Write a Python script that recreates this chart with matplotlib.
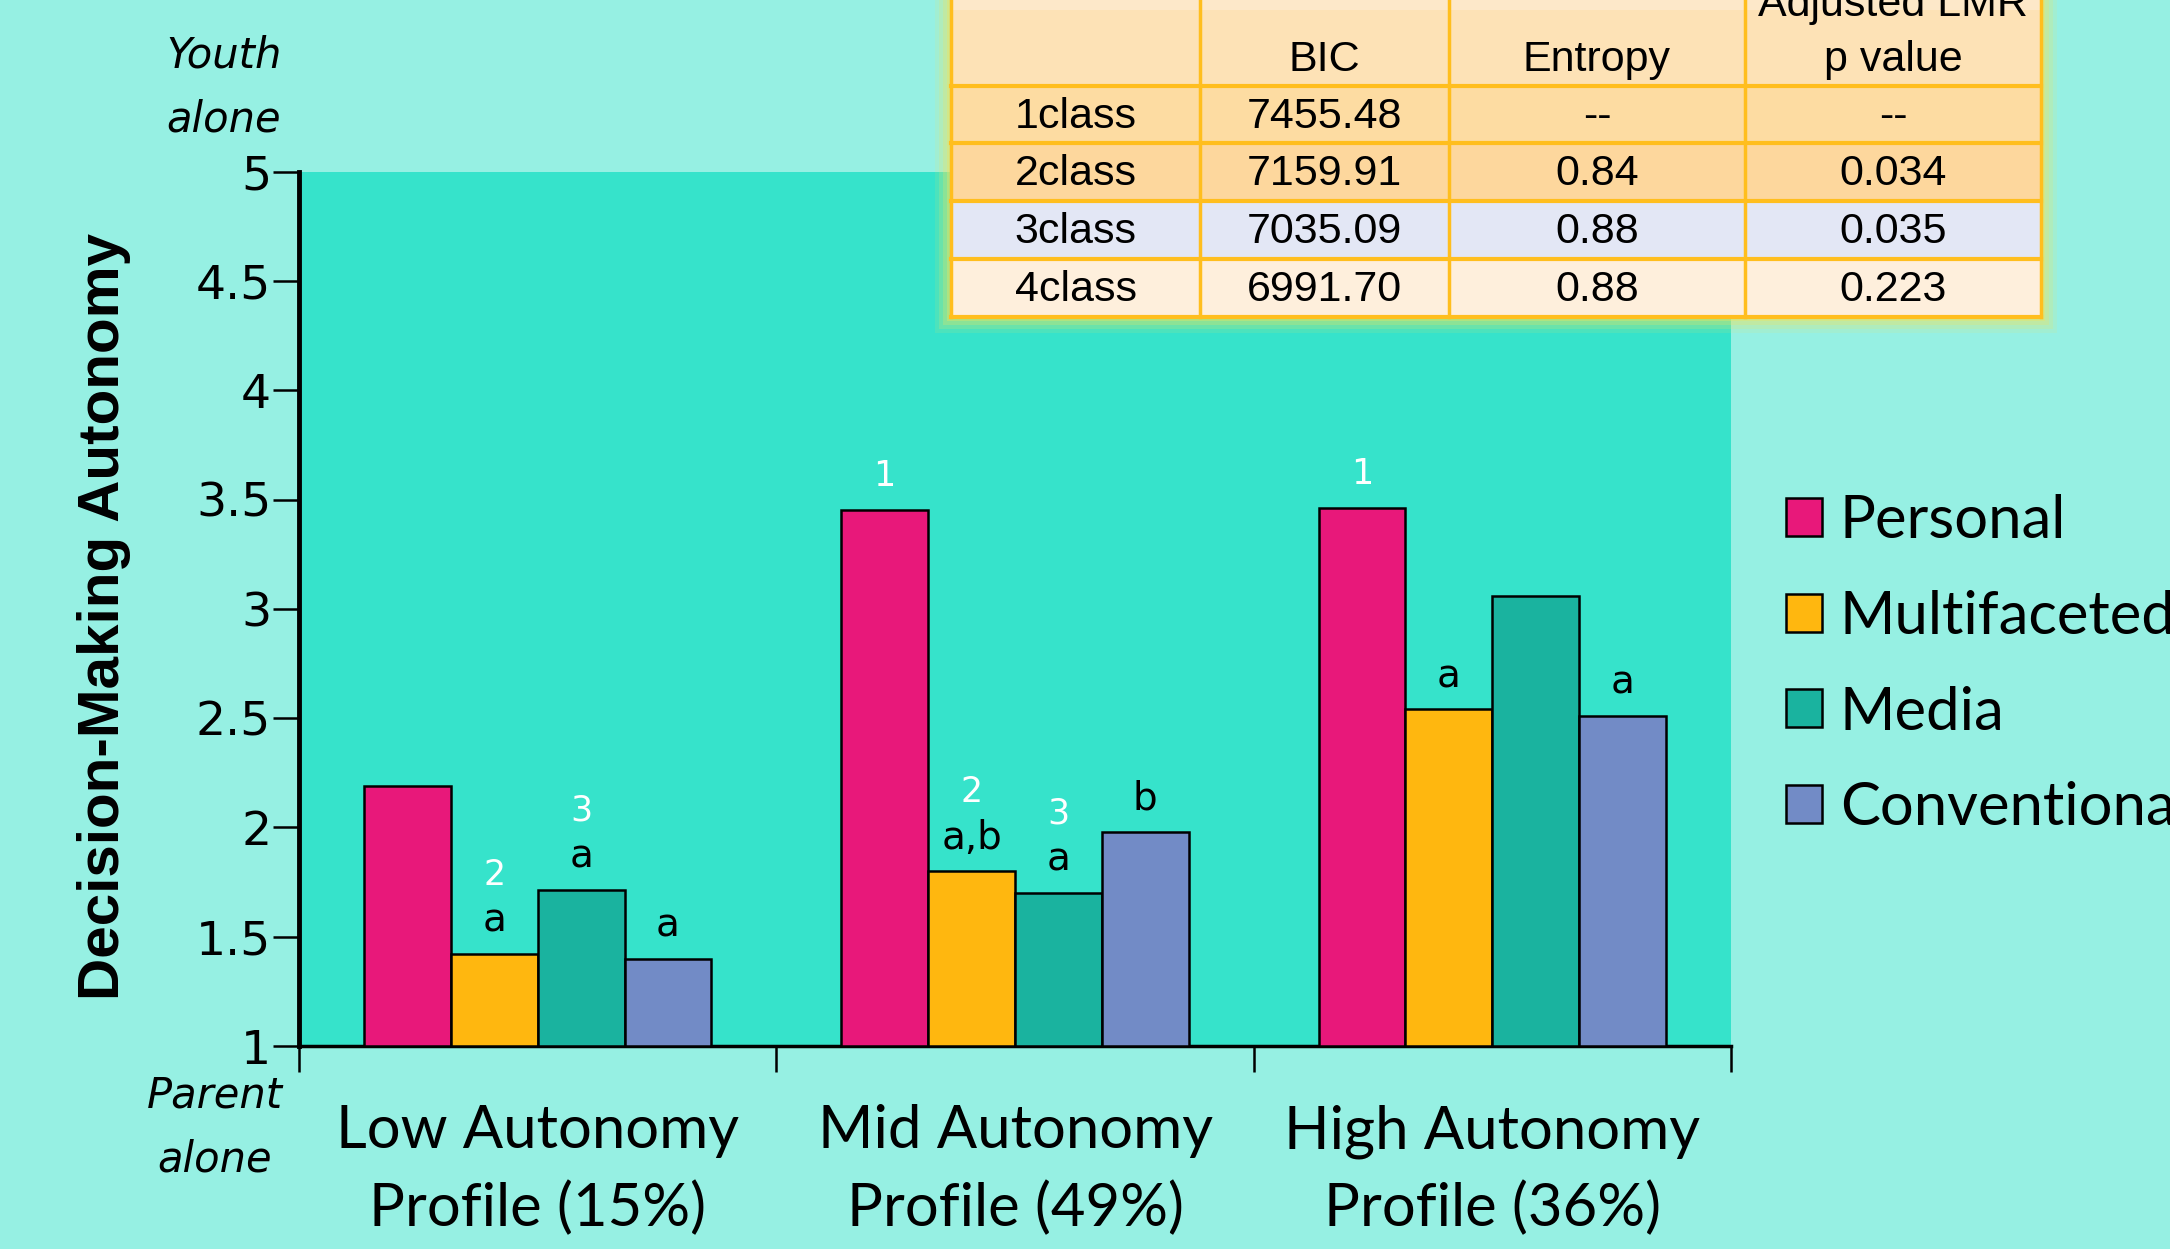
import matplotlib
matplotlib.use("Agg")
import matplotlib.pyplot as plt
from matplotlib.patches import Rectangle, Patch
import numpy as np

# ---- data -------------------------------------------------------------
profiles = ["Low Autonomy\nProfile (15%)", "Mid Autonomy\nProfile (49%)", "High Autonomy\nProfile (36%)"]
domains = ["Personal", "Multifaceted", "Media", "Conventional"]
personal = [2.19, 3.45, 3.46]
multifaceted = [1.42, 1.80, 2.54]
media = [1.715, 1.70, 3.06]
conventional = [1.40, 1.98, 2.51]

# significance letters (black) and within-profile contrasts (white)
letters_personal = ["", "", ""]
letters_multifaceted = ["a", "a,b", "a"]
letters_media = ["a", "a", ""]
letters_conventional = ["a", "b", "a"]
numbers_personal = ["", "1", "1"]
numbers_multifaceted = ["2", "2", ""]
numbers_media = ["3", "3", ""]
numbers_conventional = ["", "", ""]

yticks = [1, 1.5, 2, 2.5, 3, 3.5, 4, 4.5, 5]
ytick_labels = ["1", "1.5", "2", "2.5", "3", "3.5", "4", "4.5", "5"]

# model fit table
fit_rows = ["1class", "2class", "3class", "4class"]
fit_bic = ["7455.48", "7159.91", "7035.09", "6991.70"]
fit_entropy = ["--", "0.84", "0.88", "0.88"]
fit_lmr = ["--", "0.034", "0.035", "0.223"]

# ---- style ------------------------------------------------------------
fig_bg = "#96F0E3"
ax_bg = "#36E3CB"
colors = ["#E8187A", "#FFB70F", "#1AB39F", "#728BC6"]
label_font = ["Lato", "Open Sans", "DejaVu Sans"]
narrow_font = ["Liberation Sans Narrow", "Liberation Sans", "DejaVu Sans"]

W, H = 2170, 1249
fig = plt.figure(figsize=(W / 100, H / 100), dpi=100, facecolor=fig_bg)
ax = fig.add_axes([299 / W, 1 - 1046 / H, (1731 - 299) / W, (1046 - 171.6) / H])
ax.set_facecolor(ax_bg)

series = [personal, multifaceted, media, conventional]
letters = [letters_personal, letters_multifaceted, letters_media, letters_conventional]
numbers = [numbers_personal, numbers_multifaceted, numbers_media, numbers_conventional]

x = np.arange(len(profiles))
bw = 0.182
offsets = (np.arange(4) - 1.5) * bw
handles = []
for i, (vals, col) in enumerate(zip(series, colors)):
    bars = ax.bar(x + offsets[i], np.array(vals) - 1, bottom=1, width=bw,
                  color=col, edgecolor="black", linewidth=1.8, zorder=3)
    handles.append(Patch(facecolor=col, edgecolor="black", linewidth=1.8))
    for j, b in enumerate(bars):
        top = vals[j]
        cx = b.get_x() + b.get_width() / 2
        let = letters[i][j]
        num = numbers[i][j]
        if let:
            ax.annotate(let, (cx, top), xytext=(0, 24), textcoords="offset points",
                        ha="center", va="center", fontsize=28,
                        family="DejaVu Sans", color="black", zorder=4)
            if num:
                ax.annotate(num, (cx, top), xytext=(0, 57), textcoords="offset points",
                            ha="center", va="center", fontsize=25,
                            family="DejaVu Sans", color="white", zorder=4)
        elif num:
            ax.annotate(num, (cx, top), xytext=(0, 25), textcoords="offset points",
                        ha="center", va="center", fontsize=25,
                        family="DejaVu Sans", color="white", zorder=4)

ax.set_xlim(-0.5, 2.5)
ax.set_ylim(1, 5)
ax.set_yticks(yticks)
ax.set_yticklabels(ytick_labels, family="DejaVu Sans", fontsize=34)
ax.set_xticks(x)
ax.set_xticklabels(profiles, family=label_font, fontsize=43, linespacing=1.48)
ax.set_xticks([-0.5, 0.5, 1.5, 2.5], minor=True)
ax.tick_params(axis="x", which="major", length=0, pad=42)
ax.tick_params(axis="x", which="minor", length=19, width=1.8, direction="out")
ax.tick_params(axis="y", length=19, width=1.8, direction="out", pad=1)
for s in ("top", "right"):
    ax.spines[s].set_visible(False)
ax.spines["left"].set_linewidth(3.5)
ax.spines["bottom"].set_linewidth(2.5)

# axis annotations
fig.text(104 / W, 1 - 616 / H, "Decision-Making Autonomy", rotation=90,
         ha="center", va="center", fontsize=42, fontweight="bold", family=narrow_font)
side_kw = dict(ha="center", va="center", fontsize=30, style="italic", family="DejaVu Sans")
fig.text(224 / W, 1 - 55 / H, "Youth", **side_kw)
fig.text(224 / W, 1 - 119 / H, "alone", **side_kw)
fig.text(215 / W, 1 - 1096 / H, "Parent", **side_kw)
fig.text(215 / W, 1 - 1160 / H, "alone", **side_kw)

# legend
leg = fig.legend(handles, domains, loc="upper left",
                 bbox_to_anchor=(1762 / W, 1 - 470 / H), frameon=False,
                 prop={"family": label_font, "size": 43},
                 handlelength=0.6, handleheight=0.6, handletextpad=0.3,
                 labelspacing=0.7, borderaxespad=0)

# ---- fit table (drawn in pixel space) ----------------------------------
ov = fig.add_axes([0, 0, 1, 1], facecolor="none")
ov.set_xlim(0, W)
ov.set_ylim(H, 0)
ov.axis("off")

col_x = [951, 1200, 1449, 1745, 2041]
row_y = [-60, 86, 143, 201, 259, 317]
row_fill = ["#FDE2B6", "#FDDCA2", "#FDD79D", "#E3E7F5", "#FEEFDC"]
grid_col = "#FFBE1E"

# soft glow round the table
for k, a in zip([16, 12, 8, 4], [0.12, 0.18, 0.25, 0.35]):
    ov.add_patch(Rectangle((col_x[0] - k, row_y[0] - k), col_x[-1] - col_x[0] + 2 * k,
                           row_y[-1] - row_y[0] + 2 * k, facecolor="#F3E45A",
                           edgecolor="none", alpha=a, zorder=5))
for r in range(5):
    ov.add_patch(Rectangle((col_x[0], row_y[r]), col_x[-1] - col_x[0], row_y[r + 1] - row_y[r],
                           facecolor=row_fill[r], edgecolor="none", zorder=6))
# lighter top of the header cell
ov.add_patch(Rectangle((col_x[0], row_y[0]), col_x[-1] - col_x[0], 70,
                       facecolor="#FEEBD2", edgecolor="none", alpha=0.7, zorder=6))
for xv in col_x:
    ov.plot([xv, xv], [row_y[0], row_y[-1]], color=grid_col, lw=2.5, zorder=7)
for yv in row_y[1:]:
    ov.plot([col_x[0], col_x[-1]], [yv, yv], color=grid_col, lw=3, zorder=7)

centers = [(col_x[i] + col_x[i + 1]) / 2 for i in range(4)]
tfont = dict(family=narrow_font, fontsize=31, color="black", zorder=8,
             ha="center", va="center")
ov.text(centers[1], 60, "BIC", **tfont)
ov.text(centers[2], 60, "Entropy", **tfont)
ov.text(centers[3], 60, "p value", **tfont)
ov.text(centers[3], 5, "Adjusted LMR", **tfont)
for r in range(4):
    yc = (row_y[r + 1] + row_y[r + 2]) / 2 + 2
    for c, val in enumerate([fit_rows[r], fit_bic[r], fit_entropy[r], fit_lmr[r]]):
        ov.text(centers[c], yc, val, **tfont)

fig.savefig("out.png", dpi=100, facecolor=fig_bg)
